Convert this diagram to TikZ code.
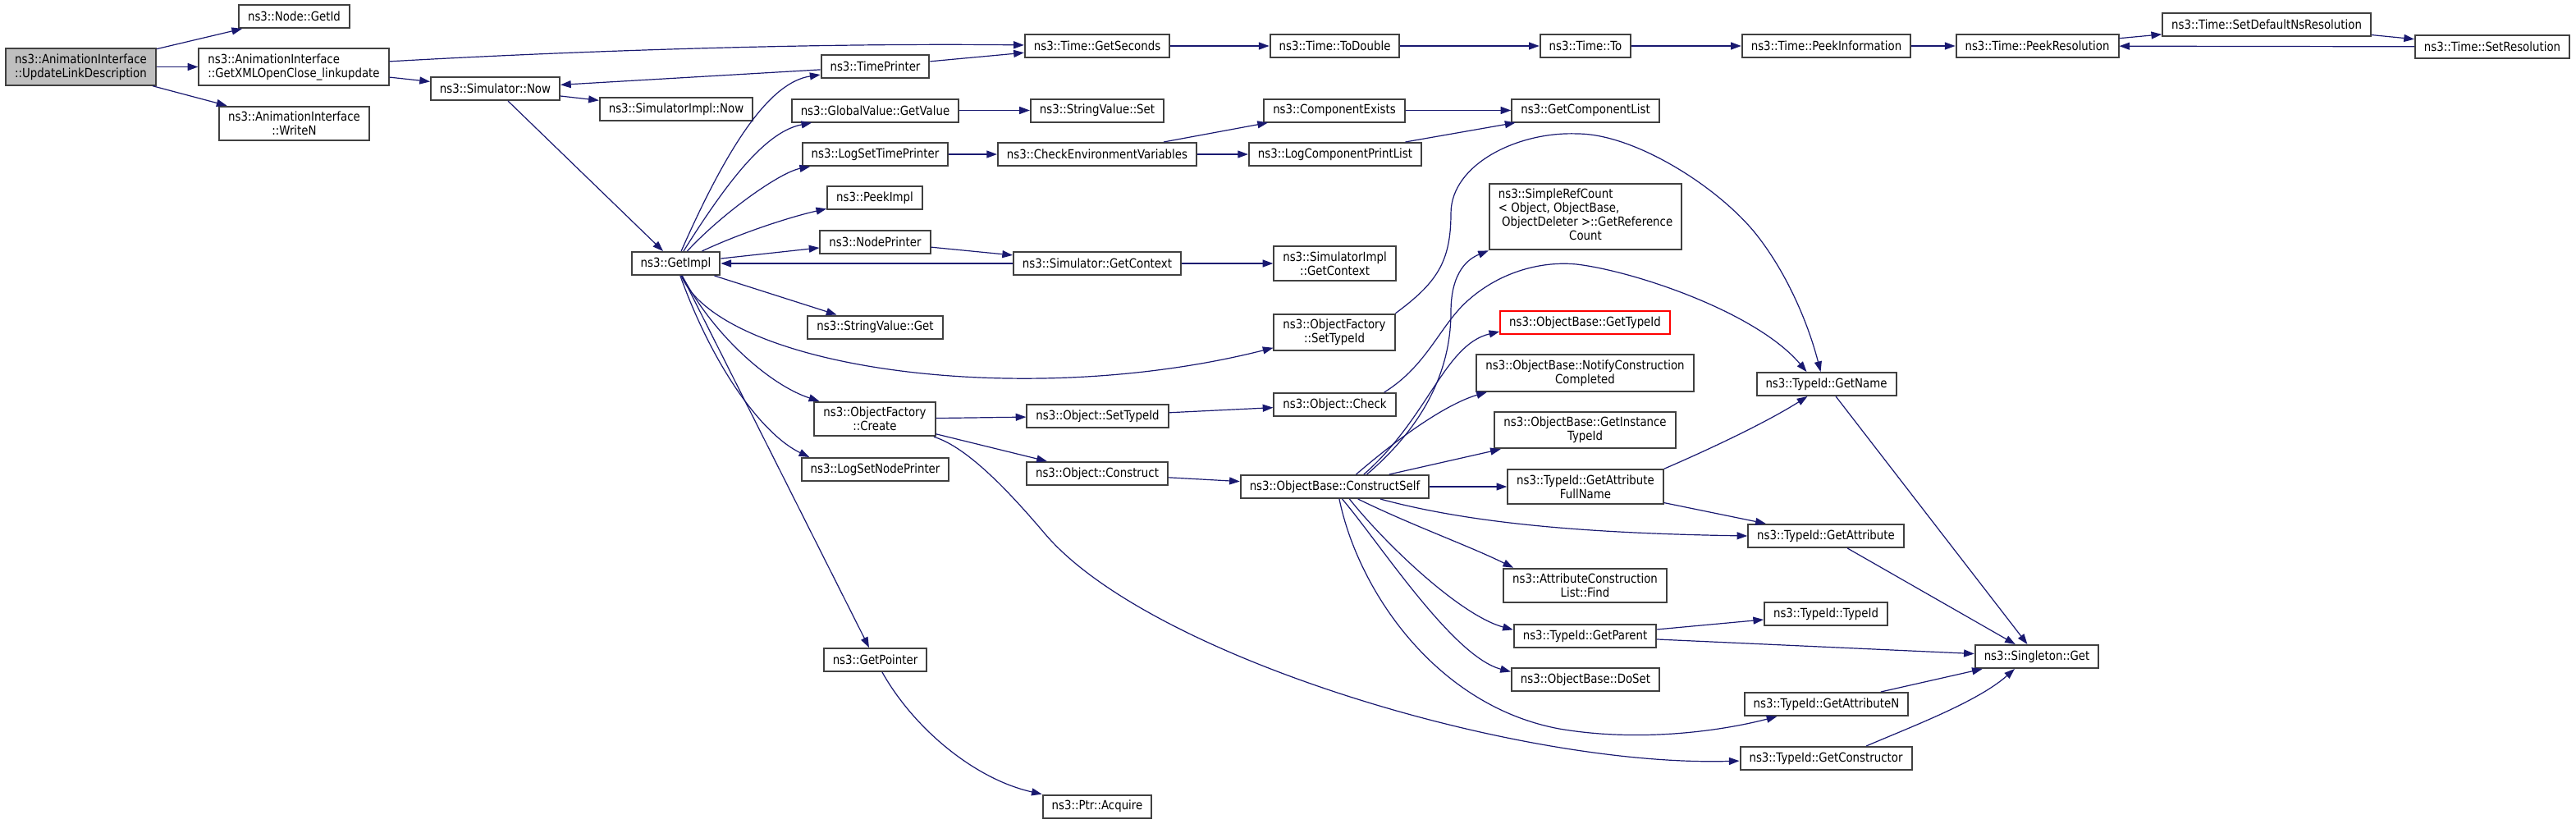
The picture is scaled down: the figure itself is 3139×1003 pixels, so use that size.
\documentclass[tikz,border=0pt]{standalone}
\usepackage{fontspec}
\setmainfont{DejaVu Sans}[FakeStretch=0.87]
\usetikzlibrary{arrows.meta}
\definecolor{edgeblue}{HTML}{191970}
\definecolor{rootgray}{HTML}{BFBFBF}
\definecolor{boxline}{HTML}{404040}

\begin{document}
\begin{tikzpicture}[x=0.75pt,y=-0.75pt,->,>={Triangle[length=9.5pt,width=6.75pt]},edgeblue,line width=0.9pt,
	fn/.style={draw=boxline,line width=1.5pt,fill=white,text=black,inner xsep=8.25pt,inner ysep=4.75pt,minimum height=21pt,align=center,font=\fontsize{11.5pt}{12.75pt}\selectfont},
	root/.style={fn,fill=rootgray},
	missing/.style={fn,draw=red}]
	  \useasboundingbox (0,0) rectangle (3139,1003);
	  \node[root] (upd) at (98.5,81.5) {ns3::AnimationInterface\\::UpdateLinkDescription};
	  \node[fn] (getid) at (358.5,20) {ns3::Node::GetId};
	  \node[fn,align=left] (xml) at (358,81.5) {ns3::AnimationInterface\\::GetXMLOpenClose\_linkupdate};
	  \node[fn] (writen) at (358.5,150.5) {ns3::AnimationInterface\\::WriteN};
	  \node[fn] (simnow) at (603.5,108) {ns3::Simulator::Now};
	  \node[fn] (implnow) at (824,133) {ns3::SimulatorImpl::Now};
	  \node[fn] (getimpl) at (823.5,321) {ns3::GetImpl};
	  \node[fn] (timeprinter) at (1066.5,81) {ns3::TimePrinter};
	  \node[fn] (globalvalue) at (1066.5,134.5) {ns3::GlobalValue::GetValue};
	  \node[fn] (logsettime) at (1066.5,188) {ns3::LogSetTimePrinter};
	  \node[fn] (peekimpl) at (1066,241) {ns3::PeekImpl};
	  \node[fn] (nodeprinter) at (1066.5,294.5) {ns3::NodePrinter};
	  \node[fn] (strget) at (1066.5,398.5) {ns3::StringValue::Get};
	  \node[fn] (create) at (1066,510.5) {ns3::ObjectFactory\\::Create};
	  \node[fn] (logsetnode) at (1066.5,572) {ns3::LogSetNodePrinter};
	  \node[fn] (getpointer) at (1066.5,804) {ns3::GetPointer};
	  \node[fn] (getseconds) at (1337,56) {ns3::Time::GetSeconds};
	  \node[fn] (strset) at (1337,134.5) {ns3::StringValue::Set};
	  \node[fn] (checkenv) at (1337,188) {ns3::CheckEnvironmentVariables};
	  \node[fn] (simctx) at (1337,321) {ns3::Simulator::GetContext};
	  \node[fn] (objsettypeid) at (1337.5,507) {ns3::Object::SetTypeId};
	  \node[fn] (construct) at (1337,577) {ns3::Object::Construct};
	  \node[fn] (acquire) at (1337,982.5) {ns3::Ptr::Acquire};
	  \node[fn] (todouble) at (1626.5,56) {ns3::Time::ToDouble};
	  \node[fn] (compexists) at (1626,134.5) {ns3::ComponentExists};
	  \node[fn] (logcomplist) at (1627,188) {ns3::LogComponentPrintList};
	  \node[fn] (implctx) at (1626.5,321) {ns3::SimulatorImpl\\::GetContext};
	  \node[fn] (factsettypeid) at (1626,405) {ns3::ObjectFactory\\::SetTypeId};
	  \node[fn] (check) at (1626.5,493) {ns3::Object::Check};
	  \node[fn] (constructself) at (1626.5,593) {ns3::ObjectBase::ConstructSelf};
	  \node[fn] (timeto) at (1932,56) {ns3::Time::To};
	  \node[fn] (getcomplist) at (1932,134.5) {ns3::GetComponentList};
	  \node[fn] (refcount) at (1932,264) {\begin{tabular}{@{}l@{}}ns3::SimpleRefCount\\< Object, ObjectBase,\\\ ObjectDeleter >::GetReference\\\multicolumn{1}{@{}c@{}}{Count}\end{tabular}};
	  \node[missing] (gettypeid) at (1931.5,393) {ns3::ObjectBase::GetTypeId};
	  \node[fn] (notify) at (1931.5,454.5) {ns3::ObjectBase::NotifyConstruction\\Completed};
	  \node[fn] (instancetypeid) at (1931.5,524) {ns3::ObjectBase::GetInstance\\TypeId};
	  \node[fn] (fullname) at (1932,593) {ns3::TypeId::GetAttribute\\FullName};
	  \node[fn] (find) at (1931.5,713.5) {ns3::AttributeConstruction\\List::Find};
	  \node[fn] (getparent) at (1931.5,775) {ns3::TypeId::GetParent};
	  \node[fn] (doset) at (1932,828) {ns3::ObjectBase::DoSet};
	  \node[fn] (peekinfo) at (2225.5,56) {ns3::Time::PeekInformation};
	  \node[fn] (getname) at (2225.5,468) {ns3::TypeId::GetName};
	  \node[fn] (getattribute) at (2225,653) {ns3::TypeId::GetAttribute};
	  \node[fn] (typeid) at (2225,748) {ns3::TypeId::TypeId};
	  \node[fn] (getattrn) at (2225.5,858) {ns3::TypeId::GetAttributeN};
	  \node[fn] (getctor) at (2225,924) {ns3::TypeId::GetConstructor};
	  \node[fn] (peekres) at (2482.5,56) {ns3::Time::PeekResolution};
	  \node[fn] (singleton) at (2482,800) {ns3::Singleton::Get};
	  \node[fn] (setdefault) at (2762,30) {ns3::Time::SetDefaultNsResolution};
	  \node[fn] (setres) at (3037,57) {ns3::Time::SetResolution};
	  \path
(upd) edge (getid)
(upd) edge (xml)
(upd) edge (writen)
(xml) edge (simnow)
(timeprinter) edge (simnow)
(timeprinter) edge (getseconds)
(simnow) edge (implnow)
(simnow) edge (getimpl)
(getimpl) edge (nodeprinter)
(getimpl) edge (strget)
(getimpl) edge (getpointer)
(simctx) edge (getimpl)
(nodeprinter) edge (simctx)
(simctx) edge (implctx)
(globalvalue) edge (strset)
(logsettime) edge (checkenv)
(checkenv) edge (compexists)
(checkenv) edge (logcomplist)
(compexists) edge (getcomplist)
(logcomplist) edge (getcomplist)
(getseconds) edge (todouble)
(todouble) edge (timeto)
(timeto) edge (peekinfo)
(peekinfo) edge (peekres)
(peekres) edge (setdefault)
(setdefault) edge (setres)
(setres) edge (peekres)
(create) edge (objsettypeid)
(create) edge (construct)
(objsettypeid) edge (check)
(construct) edge (constructself)
(constructself) edge (instancetypeid)
(constructself) edge (fullname)
(fullname) edge (getattribute)
(getname) edge (singleton)
(getattribute) edge (singleton)
(getparent) edge (typeid)
(getparent) edge (singleton)
(getattrn) edge (singleton)
;
	  \draw (xml) .. controls (700,62) and (1000,52) .. (getseconds);
	  \draw (getimpl) .. controls (890,170) and (940,100) .. (timeprinter);
	  \draw (getimpl) .. controls (890,215) and (935,160) .. (globalvalue);
	  \draw (getimpl) .. controls (880,260) and (950,210) .. (logsettime);
	  \draw (getimpl) .. controls (900,285) and (960,265) .. (peekimpl);
	  \draw (getimpl) .. controls (880,450) and (1250,500) .. (factsettypeid);
	  \draw (getimpl) .. controls (870,410) and (940,470) .. (create);
	  \draw (getimpl) .. controls (870,450) and (930,530) .. ([xshift=8pt]logsetnode.north west);
	  \draw (getpointer) .. controls (1115,890) and (1190,950) .. (acquire);
	  \draw (create) .. controls (1180,545) and (1233,603) .. (1273,650) .. controls (1400,800) and (1850,935) .. (getctor);
	  \draw (factsettypeid.north east) .. controls (1750,345) and (1768,320) .. (1768,260) .. controls (1768,200) and (1850,160) .. (1922,163) .. controls (1990,163) and (2090,225) .. (2138,283) .. controls (2180,335) and (2205,400) .. (getname.115);
	  \draw (check.14) .. controls (1740,445) and (1755,395) .. (1790,365) .. controls (1830,330) and (1880,318) .. (1921,322) .. controls (1990,330) and (2140,380) .. (getname.148);
	  \draw (constructself.21) .. controls (1745,510) and (1768,440) .. (1768,380) .. controls (1768,330) and (1790,315) .. (refcount.south west);
	  \draw (constructself.23) .. controls (1740,510) and (1760,420) .. (gettypeid.186);
	  \draw (constructself.30) .. controls (1720,520) and (1770,490) .. (notify.191);
	  \draw (constructself) .. controls (1800,640) and (1950,650) .. (getattribute.west);
	  \draw (constructself.-28) .. controls (1720,640) and (1790,665) .. (find.166);
	  \draw (constructself.-40) .. controls (1690,665) and (1780,750) .. (getparent.175);
	  \draw (constructself.-59) .. controls (1680,660) and (1770,800) .. (doset.174);
	  \draw (constructself.-70) .. controls (1655,720) and (1750,860) .. (1900,888) .. controls (2000,905) and (2100,890) .. (getattrn.194);
	  \draw (fullname.north east) .. controls (2100,540) and (2160,510) .. (getname.213);
	  \draw (getctor.17) .. controls (2330,885) and (2410,855) .. (singleton.209);
	\end{tikzpicture}
\end{document}
